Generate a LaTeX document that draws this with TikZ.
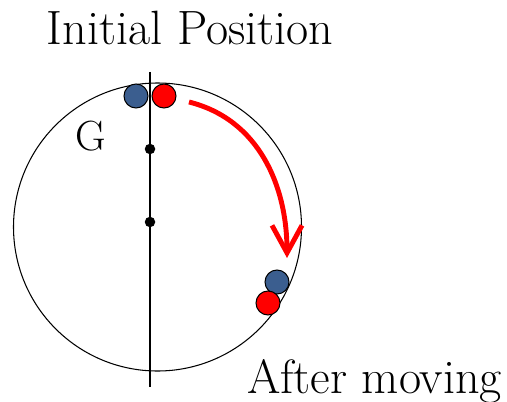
\documentclass[tikz,border=0pt]{standalone}
\usetikzlibrary{arrows.meta}
\definecolor{ballblue}{RGB}{59,94,143}
\definecolor{ballred}{RGB}{255,0,0}
\begin{document}
\begin{tikzpicture}[
    ball/.style={circle, draw, line width=0.6pt, inner sep=0pt, minimum size=4.8mm},
    dot/.style={circle, fill=black, inner sep=0pt, minimum size=2.1mm},
    caption/.style={font=\fontsize{27.4}{30}\selectfont, anchor=base},
    motion/.style={ballred, line width=2.8pt, -{Straight Barb[length=5.5mm, width=6mm]}}
  ]
  \useasboundingbox (0,0) rectangle (10.14,8.02);
  \node[circle, draw, line width=0.6pt, inner sep=0pt, minimum size=5.76cm] (rim) at (3.15,3.48) {};
  \coordinate (axtop) at (3.0,6.58);
  \coordinate (axbot) at (3.0,0.28);
  \draw[line width=0.6pt] (axtop) -- (axbot);
  \node[dot] (g1) at (3.0,5.04) {};
  \node[dot] (g2) at (3.0,3.58) {};
  \node[ball, fill=ballblue] (b0) at (2.72,6.10) {};
  \node[ball, fill=ballred] (r0) at (3.28,6.10) {};
  \node[ball, fill=ballblue] (b1) at (5.54,2.38) {};
  \node[ball, fill=ballred] (r1) at (5.36,1.96) {};
  \coordinate (from) at (3.78,5.98);
  \coordinate (to) at (5.74,2.86);
  \draw[motion] (from) to[out=-14, in=90] (to);
  \node[caption] (init) at (3.8,7.12) {Initial Position};
  \node[caption] (after) at (7.49,0.16) {After moving};
  \node[font=\fontsize{24}{27}\selectfont, anchor=base] (gl) at (1.82,5.02) {G};
\end{tikzpicture}
\end{document}
